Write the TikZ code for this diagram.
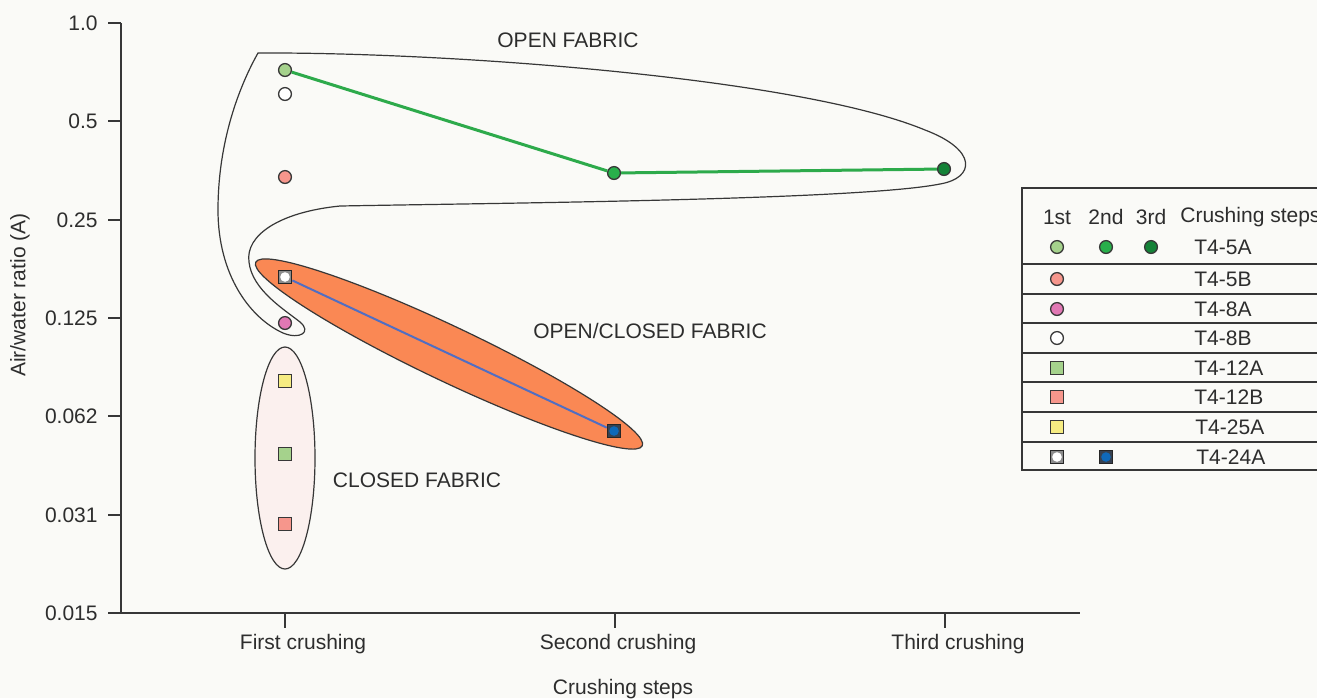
\documentclass[tikz,border=0pt]{standalone}
\usepackage{fontspec}
\setmainfont{Liberation Sans}
\usepackage{tikz}
\usetikzlibrary{positioning,shapes.geometric}
\definecolor{fbbg}{RGB}{250,250,247}
\definecolor{fbline}{RGB}{55,55,55}
\definecolor{fbtext}{RGB}{45,45,45}
\definecolor{fborange}{RGB}{250,136,84}
\definecolor{fbpink}{RGB}{251,240,238}
\definecolor{grlight}{RGB}{165,210,140}
\definecolor{grmid}{RGB}{40,175,75}
\definecolor{grdark}{RGB}{20,130,55}
\definecolor{salmon}{RGB}{246,150,140}
\definecolor{orchid}{RGB}{225,120,180}
\definecolor{lemon}{RGB}{246,236,130}
\definecolor{steel}{RGB}{15,105,185}
\definecolor{slate}{RGB}{55,65,80}
\definecolor{lineblue}{RGB}{80,110,195}
\definecolor{linegreen}{RGB}{45,170,75}

\begin{document}
\begin{tikzpicture}[x=0.5pt,y=-0.5pt,font=\fontsize{10.5}{12.5}\selectfont,
    every node/.style={text=fbtext,inner sep=0pt},
    axisline/.style={line width=1pt,fbline},
    legline/.style={line width=0.6pt,fbline},
    outline/.style={line width=0.6pt,fbline},
    dotmark/.style={circle,draw=fbline,line width=0.65pt,minimum size=6.4pt},
    sqmark/.style={rectangle,draw=fbline,line width=0.65pt,minimum size=6.2pt},
    boxdot/.style 2 args={rectangle,draw=black!85,line width=0.7pt,fill=#1,minimum size=6.6pt,
      path picture={\fill[#2] (path picture bounding box.center) circle (2.4pt);}}]
    \useasboundingbox[fill=fbbg] (0,0) rectangle (1317,698);

    % fabric fields
    \draw[outline] (258,53) .. controls (450,52) and (800,78) .. (925,130)
      .. controls (978,150) and (975,178) .. (940,184)
      .. controls (860,200) and (500,203) .. (340,206)
      .. controls (280,212) and (245,235) .. (249,262)
      .. controls (252,290) and (285,310) .. (300,322)
      .. controls (312,332) and (300,340) .. (283,333)
      .. controls (250,318) and (218,275) .. (218,210)
      .. controls (218,140) and (240,85) .. (258,53) -- cycle;
    \node[ellipse,draw=fbline,line width=0.6pt,fill=fborange,minimum width=214pt,minimum height=27.5pt,rotate=-25.4] (ocfield) at (449,354) {};
    \node[ellipse,draw=fbline,line width=0.6pt,fill=fbpink,minimum width=30pt,minimum height=111pt] (clfield) at (285,458) {};
    \node (oplab) at (568,40) {OPEN FABRIC};
    \node (oclab) at (650,331) {OPEN/CLOSED FABRIC};
    \node (cllab) at (417,480) {CLOSED FABRIC};

    % axes
    \draw[axisline] (121,23) -- (121,613) -- (1080,613);
    \draw[axisline] (108,23) -- (121,23);
    \draw[axisline] (108,121) -- (121,121);
    \draw[axisline] (108,220) -- (121,220);
    \draw[axisline] (108,318) -- (121,318);
    \draw[axisline] (108,416) -- (121,416);
    \draw[axisline] (108,515) -- (121,515);
    \draw[axisline] (108,613) -- (121,613);
    \draw[axisline] (285,613) -- (285,628);
    \draw[axisline] (615,613) -- (615,628);
    \draw[axisline] (945,613) -- (945,628);
    \node[anchor=east] (ya) at (98,23) {1.0};
    \node[anchor=east] (yb) at (98,121) {0.5};
    \node[anchor=east] (yc) at (98,220) {0.25};
    \node[anchor=east] (yd) at (98,318) {0.125};
    \node[anchor=east] (ye) at (98,416) {0.062};
    \node[anchor=east] (yf) at (98,515) {0.031};
    \node[anchor=east] (yg) at (98,613) {0.015};
    \node[rotate=90] (ytitle) at (20,295) {Air/water ratio (A)};
    \node (xa) at (303,644) {First crushing};
    \node (xb) at (618,644) {Second crushing};
    \node (xc) at (958,644) {Third crushing};
    \node (xtitle) at (623,689) {Crushing steps};

    % samples
    \node[dotmark,fill=grlight] (t45a1) at (285,70) {};
    \node[dotmark,fill=grmid] (t45a2) at (614,173) {};
    \node[dotmark,fill=grdark] (t45a3) at (944,169) {};
    \node[dotmark,fill=white] (t48b) at (285,94) {};
    \node[dotmark,fill=salmon] (t45b) at (285,177) {};
    \node[dotmark,fill=orchid] (t48a) at (285,323) {};
    \node[boxdot={black!45}{white}] (t424a1) at (285,277) {};
    \node[boxdot={slate}{steel}] (t424a2) at (614,431) {};
    \node[sqmark,fill=lemon] (t425a) at (285,381) {};
    \node[sqmark,fill=grlight] (t412a) at (285,454) {};
    \node[sqmark,fill=salmon] (t412b) at (285,524) {};
    \draw[line width=1.5pt,linegreen] (t45a1) -- (t45a2) -- (t45a3);
    \draw[line width=1pt,lineblue] (t424a1) -- (t424a2);

    % legend
    \draw[legline] (1022,188) rectangle (1345,470);
    \draw[legline] (1022,264) -- (1345,264);
    \draw[legline] (1022,294) -- (1345,294);
    \draw[legline] (1022,323) -- (1345,323);
    \draw[legline] (1022,353) -- (1345,353);
    \draw[legline] (1022,382) -- (1345,382);
    \draw[legline] (1022,412) -- (1345,412);
    \draw[legline] (1022,442) -- (1345,442);
    \node (hfirst) at (1057,217) {1st};
    \node (hsecond) at (1106,217) {2nd};
    \node (hthird) at (1151,217) {3rd};
    \node[anchor=west] (hsteps) at (1180,217) {Crushing steps};
    \node[dotmark,fill=grlight] (lg1a) at (1057,247) {};
    \node[dotmark,fill=grmid] (lg1b) at (1106,247) {};
    \node[dotmark,fill=grdark] (lg1c) at (1151,247) {};
    \node[dotmark,fill=salmon] (lg2) at (1057,279) {};
    \node[dotmark,fill=orchid] (lg3) at (1057,309) {};
    \node[dotmark,fill=white] (lg4) at (1057,338) {};
    \node[sqmark,fill=grlight] (lg5) at (1057,368) {};
    \node[sqmark,fill=salmon] (lg6) at (1057,397) {};
    \node[sqmark,fill=lemon] (lg7) at (1057,427) {};
    \node[boxdot={black!45}{white}] (lg8a) at (1057,457) {};
    \node[boxdot={slate}{steel}] (lg8b) at (1106,457) {};
    \node[anchor=west] (lt1) at (1194,247) {T4-5A};
    \node[anchor=west] (lt2) at (1194,279) {T4-5B};
    \node[anchor=west] (lt3) at (1194,309) {T4-8A};
    \node[anchor=west] (lt4) at (1194,338) {T4-8B};
    \node[anchor=west] (lt5) at (1194,368) {T4-12A};
    \node[anchor=west] (lt6) at (1194,397) {T4-12B};
    \node[anchor=west] (lt7) at (1195,427) {T4-25A};
    \node[anchor=west] (lt8) at (1196,457) {T4-24A};
  \end{tikzpicture}
\end{document}
